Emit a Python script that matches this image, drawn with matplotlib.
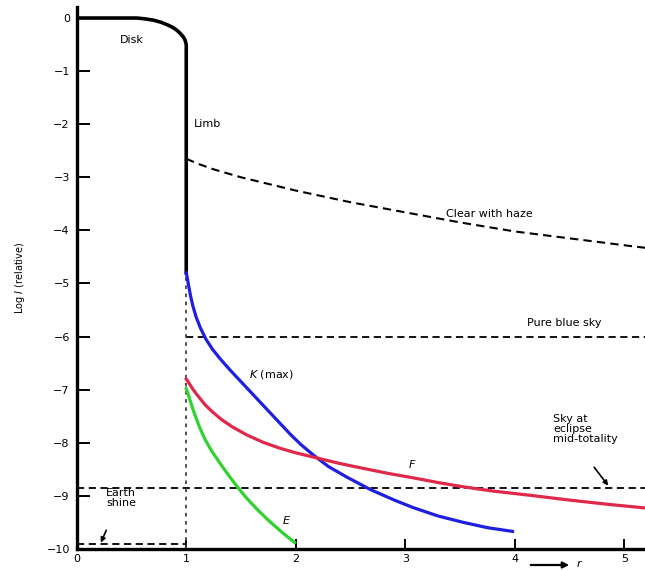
import matplotlib.pyplot as plt
from matplotlib.patches import FancyArrowPatch

# Solar disk profile and surrounding brightness, log I relative to disk centre
disk_r = [0.0, 0.3, 0.55, 0.62, 0.7, 0.77, 0.83, 0.88, 0.92, 0.95, 0.975, 0.99, 1.0, 1.0]
disk_logI = [0.0, 0.0, 0.0, -0.015, -0.04, -0.08, -0.13, -0.18, -0.24, -0.3, -0.36, -0.42, -0.5, -4.8]

haze_r = [1.0, 1.1, 1.25, 1.5, 2.0, 2.5, 3.0, 3.5, 4.0, 4.5, 5.0, 5.2]
haze_logI = [-2.65, -2.74, -2.85, -3.0, -3.25, -3.47, -3.66, -3.85, -4.02, -4.15, -4.28, -4.33]

k_r = [1.0, 1.01, 1.02, 1.04, 1.06, 1.09, 1.13, 1.18, 1.24, 1.31, 1.4, 1.55,
       1.7, 1.85, 1.95, 2.05, 2.16, 2.3, 2.46, 2.68, 2.9, 3.07, 3.3, 3.53,
       3.75, 3.98]
k_logI = [-4.8, -4.9, -5.02, -5.24, -5.42, -5.63, -5.84, -6.05, -6.24, -6.42,
          -6.63, -6.96, -7.29, -7.62, -7.84, -8.04, -8.23, -8.45, -8.64, -8.88,
          -9.08, -9.22, -9.38, -9.5, -9.6, -9.67]

f_r = [1.0, 1.02, 1.06, 1.1, 1.17, 1.24, 1.32, 1.42, 1.55, 1.7, 1.85, 2.0,
       2.16, 2.4, 2.61, 2.85, 3.07, 3.3, 3.53, 3.8, 4.14, 4.5, 4.85, 5.2]
f_logI = [-6.8, -6.86, -6.99, -7.1, -7.28, -7.42, -7.56, -7.7, -7.85, -7.99,
          -8.1, -8.19, -8.27, -8.39, -8.48, -8.58, -8.66, -8.75, -8.83, -8.91,
          -8.99, -9.08, -9.16, -9.23]

e_r = [1.0, 1.02, 1.05, 1.08, 1.12, 1.17, 1.23, 1.29, 1.34, 1.4, 1.47, 1.55,
       1.65, 1.76, 1.87, 1.99]
e_logI = [-6.98, -7.1, -7.3, -7.48, -7.7, -7.93, -8.15, -8.33, -8.48, -8.65,
          -8.84, -9.04, -9.26, -9.48, -9.68, -9.88]

blue_sky = -6.0
eclipse_sky = -8.85
earth_shine = -9.9

yticks = list(range(0, -11, -1))
xticks = [0, 1, 2, 3, 4, 5]

fig = plt.figure(figsize=(6.45, 5.7), dpi=100)
ax = fig.add_axes([0.119, 0.037, 0.881, 0.950])

dash = (0, (4, 2.5))

ax.plot(disk_r, disk_logI, color='black', lw=2.6, solid_joinstyle='round')
ax.plot(haze_r, haze_logI, color='black', lw=1.5, linestyle=dash)
ax.hlines(blue_sky, 1.0, 5.2, color='black', lw=1.3, linestyle=dash)
ax.hlines(eclipse_sky, 0.0, 5.2, color='black', lw=1.3, linestyle=dash)
ax.hlines(earth_shine, 0.0, 1.0, color='black', lw=1.3, linestyle=dash)
ax.vlines(1.0, -10.0, -4.8, color='#444444', lw=1.3, linestyle=(0, (2, 2.5)))

ax.plot(k_r, k_logI, color='#1f1fe0', lw=2.3, solid_joinstyle='round')
ax.plot(f_r, f_logI, color='#e0284a', lw=2.3, solid_joinstyle='round')
ax.plot(e_r, e_logI, color='#2fd22f', lw=2.3, solid_joinstyle='round')

# labels on the curves
fs = 8
ax.text(0.5, -0.42, 'Disk', fontsize=fs, ha='center', va='center')
ax.text(1.07, -2.0, 'Limb', fontsize=fs, ha='left', va='center')
ax.text(3.77, -3.7, 'Clear with haze', fontsize=fs, ha='center', va='center')
ax.text(4.45, -5.75, 'Pure blue sky', fontsize=fs, ha='center', va='center')
ax.text(1.78, -6.72, r'$\it{K}$ (max)', fontsize=fs, ha='center', va='center')
ax.text(3.06, -8.42, 'F', fontsize=fs, style='italic', ha='center', va='center')
ax.text(1.91, -9.47, 'E', fontsize=fs, style='italic', ha='center', va='center')
ax.text(4.35, -7.45, 'Sky at\neclipse\nmid-totality', fontsize=fs,
        ha='left', va='top', linespacing=1.0)
ax.annotate('', xy=(4.87, -8.85), xytext=(4.71, -8.42),
            arrowprops=dict(arrowstyle='-|>', color='black', lw=1.2,
                            mutation_scale=7))
ax.text(0.27, -9.05, 'Earth\nshine', fontsize=fs, ha='left', va='center',
        linespacing=1.0)
ax.annotate('', xy=(0.21, -9.93), xytext=(0.28, -9.6),
            arrowprops=dict(arrowstyle='-|>', color='black', lw=1.2,
                            mutation_scale=7))

ax.set_xlim(0, 5.19)
ax.set_ylim(-10.0, 0.2)
ax.set_xticks(xticks)
ax.set_yticks(yticks)
ax.set_yticklabels([str(t).replace('-', '\u2212') for t in yticks])
ax.tick_params(axis='y', direction='in', length=9, width=1.4, labelsize=fs, pad=5)
ax.tick_params(axis='x', direction='in', length=7, width=1.4, labelsize=fs, pad=4)
for s in ('top', 'right'):
    ax.spines[s].set_visible(False)
for s in ('left', 'bottom'):
    ax.spines[s].set_linewidth(2.4)

ax.set_ylabel(r'Log $\it{I}$ (relative)', fontsize=7, labelpad=14)

# radial direction arrow below the axis
fig.patches.append(FancyArrowPatch(
    (528 / 645, 5 / 570), (572 / 645, 5 / 570), transform=fig.transFigure,
    arrowstyle='-|>', mutation_scale=9, lw=1.6, color='black'))
fig.text(577 / 645, 6 / 570, 'r', fontsize=8, style='italic', va='center')

fig.savefig('out.png', dpi=100)
